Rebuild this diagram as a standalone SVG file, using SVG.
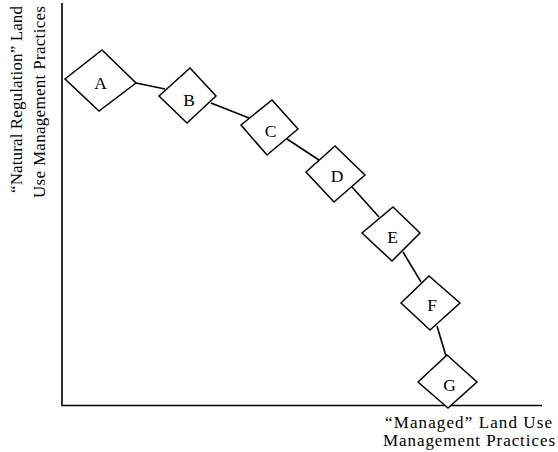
<svg xmlns="http://www.w3.org/2000/svg" width="558" height="452" viewBox="0 0 558 452">
<style>
.d{fill:#fff;stroke:#000;stroke-width:1.5;stroke-linejoin:miter}
.c{stroke:#000;stroke-width:1.6;fill:none}
.ax{stroke:#000;stroke-width:1.6;fill:none}
.lbl{font-family:"Liberation Serif","Times New Roman",serif;font-size:17.5px;fill:#000;text-anchor:middle}
.t{font-family:"Liberation Serif","Times New Roman",serif;font-size:17px;fill:#000}
</style>
<rect width="558" height="452" fill="#fff"/>
<g id="axes">
<line class="ax" x1="62" y1="3" x2="62" y2="405.5"/>
<line class="ax" x1="61.2" y1="405.5" x2="542" y2="405.5"/>
</g>
<g id="connectors">
<line class="c" x1="136" y1="83" x2="165" y2="89"/>
<line class="c" x1="211" y1="103" x2="249" y2="118"/>
<line class="c" x1="287" y1="139" x2="319" y2="160"/>
<line class="c" x1="352" y1="187" x2="379" y2="217"/>
<line class="c" x1="403" y1="252" x2="421" y2="282"/>
<line class="c" x1="437" y1="326" x2="446" y2="356"/>
</g>
<g id="node-A"><polygon class="d" points="102,50 136,83 99,111 65,79"/><text class="lbl" x="100.5" y="89">A</text></g>
<g id="node-B"><polygon class="d" points="190,68 216,96 187,123 159,96"/><text class="lbl" x="189" y="106">B</text></g>
<g id="node-C"><polygon class="d" points="272,100 298,129 267,155 241,125"/><text class="lbl" x="270.5" y="137">C</text></g>
<g id="node-D"><polygon class="d" points="335,146 365,175 334,202 306,172"/><text class="lbl" x="337" y="182">D</text></g>
<g id="node-E"><polygon class="d" points="393,207 420,233 392,261 362,233"/><text class="lbl" x="392.5" y="243">E</text></g>
<g id="node-F"><polygon class="d" points="429,276 460,303 430,330 401,303"/><text class="lbl" x="432" y="311">F</text></g>
<g id="node-G"><polygon class="d" points="447,355 477,382 448,408 418,382"/><text class="lbl" x="449.5" y="391">G</text></g>
<g id="y-label">
<text class="t" transform="translate(22,193) rotate(-90)" textLength="187" lengthAdjust="spacing">“Natural Regulation” Land</text>
<text class="t" transform="translate(45,198) rotate(-90)" textLength="192" lengthAdjust="spacing">Use Management Practices</text>
</g>
<g id="x-label">
<text class="t" x="385" y="428" textLength="167" lengthAdjust="spacing">“Managed” Land Use</text>
<text class="t" x="383" y="446" textLength="172" lengthAdjust="spacing">Management Practices</text>
</g>
</svg>
